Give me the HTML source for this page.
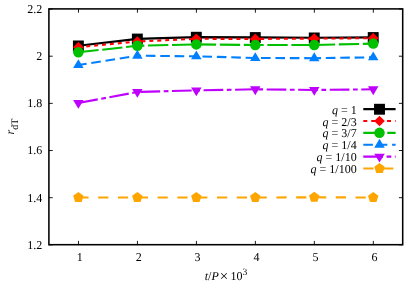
<!DOCTYPE html>
<html><head><meta charset="utf-8"><title>plot</title>
<style>
html,body{margin:0;padding:0;background:#fff;}
body{width:407px;height:285px;overflow:hidden;}
svg{display:block;}
text{font-family:"Liberation Serif",serif;font-size:12px;fill:#000;}
.i{font-style:italic;}
svg{will-change:transform;}
text{text-rendering:geometricPrecision;}
</style></head><body>
<svg width="407" height="285" viewBox="0 0 407 285">
<rect x="0" y="0" width="407" height="285" fill="#ffffff"/>
<path d="M78.48,244.70v-3.8 M78.48,8.90v3.8 M137.45,244.70v-3.8 M137.45,8.90v3.8 M196.42,244.70v-3.8 M196.42,8.90v3.8 M255.38,244.70v-3.8 M255.38,8.90v3.8 M314.35,244.70v-3.8 M314.35,8.90v3.8 M373.32,244.70v-3.8 M373.32,8.90v3.8 M48.90,244.85h3.8 M402.70,244.85h-3.8 M48.90,197.69h3.8 M402.70,197.69h-3.8 M48.90,150.53h3.8 M402.70,150.53h-3.8 M48.90,103.37h3.8 M402.70,103.37h-3.8 M48.90,56.21h3.8 M402.70,56.21h-3.8 M48.90,9.05h3.8 M402.70,9.05h-3.8" stroke="#000" stroke-width="0.9" fill="none"/>
<text x="79.68" y="261.2" text-anchor="middle">1</text>
<text x="138.65" y="261.2" text-anchor="middle">2</text>
<text x="197.62" y="261.2" text-anchor="middle">3</text>
<text x="256.58" y="261.2" text-anchor="middle">4</text>
<text x="315.55" y="261.2" text-anchor="middle">5</text>
<text x="374.52" y="261.2" text-anchor="middle">6</text>
<text x="42.3" y="248.70" text-anchor="end">1.2</text>
<text x="42.3" y="201.54" text-anchor="end">1.4</text>
<text x="42.3" y="154.38" text-anchor="end">1.6</text>
<text x="42.3" y="107.22" text-anchor="end">1.8</text>
<text x="42.3" y="60.06" text-anchor="end">2</text>
<text x="42.3" y="12.90" text-anchor="end">2.2</text>
<text x="204.7" y="280.3"><tspan class="i">t</tspan>/<tspan class="i">P</tspan></text>
<text x="223.9" y="281.1" text-anchor="middle" style="font-size:15px">×</text>
<text x="230.6" y="280.3">10<tspan font-size="9.6" dy="-5.5">3</tspan></text>
<text transform="translate(14,126.5) rotate(-90)" text-anchor="middle"><tspan class="i">r</tspan><tspan font-size="10" dy="3.5">dT</tspan></text>
<polyline points="78.38,45.80 137.35,38.90 196.32,37.10 255.28,37.40 314.25,37.80 373.22,37.40" fill="none" stroke="#000000" stroke-width="2.1"/>
<rect x="72.93" y="40.50" width="10.9" height="10.9" fill="#000000"/>
<rect x="131.90" y="33.60" width="10.9" height="10.9" fill="#000000"/>
<rect x="190.87" y="31.80" width="10.9" height="10.9" fill="#000000"/>
<rect x="249.83" y="32.10" width="10.9" height="10.9" fill="#000000"/>
<rect x="308.80" y="32.50" width="10.9" height="10.9" fill="#000000"/>
<rect x="367.77" y="32.10" width="10.9" height="10.9" fill="#000000"/>
<text x="356.7" y="113.70" text-anchor="end"><tspan class="i">q</tspan> = 1</text>
<path d="M363.3,109.10H395.6" fill="none" stroke="#000000" stroke-width="2.1"/>
<rect x="374.05" y="103.80" width="10.9" height="10.9" fill="#000000"/>
<line x1="78.38" y1="47.20" x2="137.35" y2="41.50" stroke="#ff0000" stroke-width="2.1" stroke-dasharray="3.96,3.96" stroke-dashoffset="0.00"/>
<line x1="137.35" y1="41.50" x2="196.32" y2="38.80" stroke="#ff0000" stroke-width="2.1" stroke-dasharray="3.96,3.96" stroke-dashoffset="59.24"/>
<line x1="196.32" y1="38.80" x2="255.28" y2="38.90" stroke="#ff0000" stroke-width="2.1" stroke-dasharray="3.96,3.96" stroke-dashoffset="118.27"/>
<line x1="255.28" y1="38.90" x2="314.25" y2="38.60" stroke="#ff0000" stroke-width="2.1" stroke-dasharray="3.96,3.96" stroke-dashoffset="177.24"/>
<line x1="314.25" y1="38.60" x2="373.22" y2="38.20" stroke="#ff0000" stroke-width="2.1" stroke-dasharray="3.96,3.96" stroke-dashoffset="236.20"/>
<path d="M78.38,41.85 L83.73,47.20 L78.38,52.55 L73.03,47.20Z" fill="#ff0000"/>
<path d="M137.35,36.15 L142.70,41.50 L137.35,46.85 L132.00,41.50Z" fill="#ff0000"/>
<path d="M196.32,33.45 L201.67,38.80 L196.32,44.15 L190.97,38.80Z" fill="#ff0000"/>
<path d="M255.28,33.55 L260.63,38.90 L255.28,44.25 L249.93,38.90Z" fill="#ff0000"/>
<path d="M314.25,33.25 L319.60,38.60 L314.25,43.95 L308.90,38.60Z" fill="#ff0000"/>
<path d="M373.22,32.85 L378.57,38.20 L373.22,43.55 L367.87,38.20Z" fill="#ff0000"/>
<text x="356.7" y="125.58" text-anchor="end"><tspan class="i">q</tspan> = 2/3</text>
<path d="M363.3,120.98H395.6" fill="none" stroke="#ff0000" stroke-width="2.1" stroke-dasharray="3.96,3.96"/>
<path d="M379.50,115.63 L384.85,120.98 L379.50,126.33 L374.15,120.98Z" fill="#ff0000"/>
<line x1="78.38" y1="52.30" x2="137.35" y2="45.80" stroke="#00c000" stroke-width="2.1" stroke-dasharray="20.3,3.7" stroke-dashoffset="0.00"/>
<line x1="137.35" y1="45.80" x2="196.32" y2="44.40" stroke="#00c000" stroke-width="2.1" stroke-dasharray="20.3,3.7" stroke-dashoffset="61.32"/>
<line x1="196.32" y1="44.40" x2="255.28" y2="45.00" stroke="#00c000" stroke-width="2.1" stroke-dasharray="20.3,3.7" stroke-dashoffset="120.51"/>
<line x1="255.28" y1="45.00" x2="314.25" y2="45.00" stroke="#00c000" stroke-width="2.1" stroke-dasharray="20.3,3.7" stroke-dashoffset="179.88"/>
<line x1="314.25" y1="45.00" x2="373.22" y2="43.60" stroke="#00c000" stroke-width="2.1" stroke-dasharray="20.3,3.7" stroke-dashoffset="239.44"/>
<circle cx="78.38" cy="52.30" r="5.25" fill="#00c000"/>
<circle cx="137.35" cy="45.80" r="5.25" fill="#00c000"/>
<circle cx="196.32" cy="44.40" r="5.25" fill="#00c000"/>
<circle cx="255.28" cy="45.00" r="5.25" fill="#00c000"/>
<circle cx="314.25" cy="45.00" r="5.25" fill="#00c000"/>
<circle cx="373.22" cy="43.60" r="5.25" fill="#00c000"/>
<text x="356.7" y="137.46" text-anchor="end"><tspan class="i">q</tspan> = 3/7</text>
<path d="M363.3,132.86H395.6" fill="none" stroke="#00c000" stroke-width="2.1" stroke-dasharray="20.3,3.7"/>
<circle cx="379.50" cy="132.86" r="5.25" fill="#00c000"/>
<line x1="78.38" y1="65.00" x2="137.35" y2="55.70" stroke="#0080ff" stroke-width="2.1" stroke-dasharray="9.6,4.8" stroke-dashoffset="1.30"/>
<line x1="137.35" y1="55.70" x2="196.32" y2="56.30" stroke="#0080ff" stroke-width="2.1" stroke-dasharray="9.6,4.8" stroke-dashoffset="63.50"/>
<line x1="196.32" y1="56.30" x2="255.28" y2="58.00" stroke="#0080ff" stroke-width="2.1" stroke-dasharray="9.6,4.8" stroke-dashoffset="123.47"/>
<line x1="255.28" y1="58.00" x2="314.25" y2="58.20" stroke="#0080ff" stroke-width="2.1" stroke-dasharray="9.6,4.8" stroke-dashoffset="181.46"/>
<line x1="314.25" y1="58.20" x2="373.22" y2="57.30" stroke="#0080ff" stroke-width="2.1" stroke-dasharray="9.6,4.8" stroke-dashoffset="233.22"/>
<path d="M78.38,59.13 L83.63,67.93 L73.13,67.93Z" fill="#0080ff"/>
<path d="M137.35,49.83 L142.60,58.63 L132.10,58.63Z" fill="#0080ff"/>
<path d="M196.32,50.43 L201.57,59.23 L191.07,59.23Z" fill="#0080ff"/>
<path d="M255.28,52.13 L260.53,60.93 L250.03,60.93Z" fill="#0080ff"/>
<path d="M314.25,52.33 L319.50,61.13 L309.00,61.13Z" fill="#0080ff"/>
<path d="M373.22,51.43 L378.47,60.23 L367.97,60.23Z" fill="#0080ff"/>
<text x="356.7" y="149.34" text-anchor="end"><tspan class="i">q</tspan> = 1/4</text>
<path d="M363.3,144.74H395.6" fill="none" stroke="#0080ff" stroke-width="2.1" stroke-dasharray="9.6,4.8"/>
<path d="M379.50,138.87 L384.75,147.67 L374.25,147.67Z" fill="#0080ff"/>
<line x1="78.38" y1="103.00" x2="137.35" y2="92.00" stroke="#c000ff" stroke-width="2.1" stroke-dasharray="19.7,3.55,4.75,3.55" stroke-dashoffset="0.00"/>
<line x1="137.35" y1="92.00" x2="196.32" y2="90.40" stroke="#c000ff" stroke-width="2.1" stroke-dasharray="19.7,3.55,4.75,3.55" stroke-dashoffset="59.98"/>
<line x1="196.32" y1="90.40" x2="255.28" y2="89.30" stroke="#c000ff" stroke-width="2.1" stroke-dasharray="19.7,3.55,4.75,3.55" stroke-dashoffset="118.97"/>
<line x1="255.28" y1="89.30" x2="314.25" y2="90.00" stroke="#c000ff" stroke-width="2.1" stroke-dasharray="19.7,3.55,4.75,3.55" stroke-dashoffset="177.95"/>
<line x1="314.25" y1="90.00" x2="373.22" y2="89.30" stroke="#c000ff" stroke-width="2.1" stroke-dasharray="19.7,3.55,4.75,3.55" stroke-dashoffset="236.92"/>
<path d="M78.38,108.87 L83.63,100.07 L73.13,100.07Z" fill="#c000ff"/>
<path d="M137.35,97.87 L142.60,89.07 L132.10,89.07Z" fill="#c000ff"/>
<path d="M196.32,96.27 L201.57,87.47 L191.07,87.47Z" fill="#c000ff"/>
<path d="M255.28,95.17 L260.53,86.37 L250.03,86.37Z" fill="#c000ff"/>
<path d="M314.25,95.87 L319.50,87.07 L309.00,87.07Z" fill="#c000ff"/>
<path d="M373.22,95.17 L378.47,86.37 L367.97,86.37Z" fill="#c000ff"/>
<text x="356.7" y="161.22" text-anchor="end"><tspan class="i">q</tspan> = 1/10</text>
<path d="M363.3,156.62H395.6" fill="none" stroke="#c000ff" stroke-width="2.1" stroke-dasharray="19.7,3.55,4.75,3.55"/>
<path d="M379.50,162.49 L384.75,153.69 L374.25,153.69Z" fill="#c000ff"/>
<line x1="78.38" y1="197.50" x2="137.35" y2="197.50" stroke="#ffa500" stroke-width="2.1" stroke-dasharray="10.2,9.6" stroke-dashoffset="0.00"/>
<line x1="137.35" y1="197.50" x2="196.32" y2="197.50" stroke="#ffa500" stroke-width="2.1" stroke-dasharray="10.2,9.6" stroke-dashoffset="58.97"/>
<line x1="196.32" y1="197.50" x2="255.28" y2="197.50" stroke="#ffa500" stroke-width="2.1" stroke-dasharray="10.2,9.6" stroke-dashoffset="117.93"/>
<line x1="255.28" y1="197.50" x2="314.25" y2="197.30" stroke="#ffa500" stroke-width="2.1" stroke-dasharray="10.2,9.6" stroke-dashoffset="176.90"/>
<line x1="314.25" y1="197.30" x2="373.22" y2="197.50" stroke="#ffa500" stroke-width="2.1" stroke-dasharray="10.2,9.6" stroke-dashoffset="235.87"/>
<polygon points="78.38,192.00 83.61,195.80 81.62,201.95 75.15,201.95 73.15,195.80" fill="#ffa500"/>
<polygon points="137.35,192.00 142.58,195.80 140.58,201.95 134.12,201.95 132.12,195.80" fill="#ffa500"/>
<polygon points="196.32,192.00 201.55,195.80 199.55,201.95 193.08,201.95 191.09,195.80" fill="#ffa500"/>
<polygon points="255.28,192.00 260.51,195.80 258.52,201.95 252.05,201.95 250.05,195.80" fill="#ffa500"/>
<polygon points="314.25,191.80 319.48,195.60 317.48,201.75 311.02,201.75 309.02,195.60" fill="#ffa500"/>
<polygon points="373.22,192.00 378.45,195.80 376.45,201.95 369.98,201.95 367.99,195.80" fill="#ffa500"/>
<text x="356.7" y="173.10" text-anchor="end"><tspan class="i">q</tspan> = 1/100</text>
<path d="M363.3,168.50H395.6" fill="none" stroke="#ffa500" stroke-width="2.1" stroke-dasharray="10.2,9.6"/>
<polygon points="379.50,163.00 384.73,166.80 382.73,172.95 376.27,172.95 374.27,166.80" fill="#ffa500"/>
<rect x="48.9" y="8.9" width="353.80" height="235.80" fill="none" stroke="#000" stroke-width="1.55"/>
</svg></body></html>
